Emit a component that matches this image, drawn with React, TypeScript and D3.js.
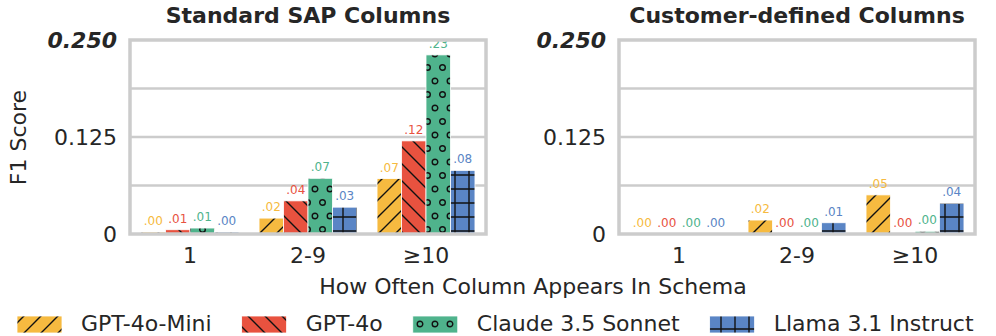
import React, { useEffect, useRef } from "react";
import * as d3 from "d3";

const categories = ["1", "2-9", "≥10"];
const models = ["GPT-4o-Mini", "GPT-4o", "Claude 3.5 Sonnet", "Llama 3.1 Instruct"];
const colors = ["#F6BA40", "#E8523F", "#4FB38C", "#5A85C5"];
const hatches = ["slash", "backslash", "circles", "grid"];

// values per model, in category order
const standardMini = [0.0025, 0.0205, 0.0714];
const standardGpt4o = [0.0055, 0.0427, 0.12];
const standardClaude = [0.0077, 0.0718, 0.2308];
const standardLlama = [0.0025, 0.0346, 0.082];

const customMini = [0, 0.018, 0.0504];
const customGpt4o = [0, 0, 0];
const customClaude = [0, 0, 0.0035];
const customLlama = [0, 0.0145, 0.0397];

const yTicks = [0, 0.125, 0.25];
const yTickLabels = ["0", "0.125", "0.250"];
const yGrid = [0.0625, 0.125, 0.1875];

const panels = [
  { title: "Standard SAP Columns", series: [standardMini, standardGpt4o, standardClaude, standardLlama], left: 130, right: 486 },
  { title: "Customer-defined Columns", series: [customMini, customGpt4o, customClaude, customLlama], left: 619, right: 975 },
];

const FONT = "DejaVu Sans, sans-serif";
const TEXT = "#262626";
const GRID = "#cccccc";

function App() {
  const ref = useRef<SVGSVGElement>(null);

  useEffect(() => {
    const svg = d3.select(ref.current);
    svg.selectAll("*").remove();

    // hatch patterns
    const defs = svg.append("defs");
    hatches.forEach((h, i) => {
      let w = 17;
      let ht = 17;
      if (h === "circles") { w = 15; ht = 27; }
      if (h === "grid") { w = 14; ht = 14; }
      const p = defs
        .append("pattern")
        .attr("id", "hatch-" + h)
        .attr("patternUnits", "userSpaceOnUse")
        .attr("width", w)
        .attr("height", ht);
      p.append("rect").attr("width", w).attr("height", ht).attr("fill", colors[i]);
      const g = p.append("g").attr("stroke", "#111").attr("stroke-width", 1.4).attr("fill", "none");
      if (h === "slash") {
        g.append("path").attr("d", `M-1,1 l2,-2 M0,${w} l${w},-${w} M${w - 1},${w + 1} l2,-2`);
      } else if (h === "backslash") {
        g.append("path").attr("d", `M-1,${w - 1} l2,2 M0,0 l${w},${w} M${w - 1},-1 l2,2`);
      } else if (h === "grid") {
        g.append("path").attr("d", "M7,0 V14 M0,7 H14");
      } else {
        const pts = [
          [0, 0], [15, 0], [7.5, 13.5], [0, 27], [15, 27],
        ];
        pts.forEach(([cx, cy]) =>
          g.append("circle").attr("cx", cx).attr("cy", cy).attr("r", 2.8)
        );
      }
    });

    const y = d3.scaleLinear().domain([0, 0.25]).range([234, 40]);

    panels.forEach((panel) => {
      const g = svg.append("g");
      const x = d3
        .scaleBand()
        .domain(categories)
        .range([panel.left + 1, panel.right - 1])
        .paddingInner(0)
        .paddingOuter(0);
      const inner = d3
        .scaleBand()
        .domain(models)
        .range([0, x.bandwidth() * 0.83]);
      const groupOffset = (x.bandwidth() - x.bandwidth() * 0.83) / 2;

      // grid lines
      g.append("g")
        .selectAll("line")
        .data(yGrid)
        .join("line")
        .attr("x1", panel.left)
        .attr("x2", panel.right)
        .attr("y1", (d) => y(d))
        .attr("y2", (d) => y(d))
        .attr("stroke", GRID)
        .attr("stroke-width", 2.6);

      // bars
      models.forEach((m, mi) => {
        const vals = panel.series[mi];
        g.append("g")
          .selectAll("rect")
          .data(vals)
          .join("rect")
          .attr("x", (_, ci) => (x(categories[ci]) as number) + groupOffset + (inner(m) as number))
          .attr("width", inner.bandwidth())
          .attr("y", (d) => y(d))
          .attr("height", (d) => y(0) - y(d))
          .attr("fill", `url(#hatch-${hatches[mi]})`)
          .attr("stroke", "white")
          .attr("stroke-width", 0.8);

        g.append("g")
          .selectAll("text")
          .data(vals)
          .join("text")
          .attr("x", (_, ci) => (x(categories[ci]) as number) + groupOffset + (inner(m) as number) + inner.bandwidth() / 2)
          .attr("y", (d) => y(d) - 7)
          .attr("text-anchor", "middle")
          .attr("font-family", FONT)
          .attr("font-size", 12)
          .attr("fill", colors[mi])
          .text((d) => d3.format(".2f")(d).replace(/^0/, ""));
      });

      // frame
      g.append("rect")
        .attr("x", panel.left)
        .attr("y", 40)
        .attr("width", panel.right - panel.left)
        .attr("height", 194)
        .attr("fill", "none")
        .attr("stroke", GRID)
        .attr("stroke-width", 3.5);

      // y tick labels
      g.append("g")
        .selectAll("text")
        .data(yTicks)
        .join("text")
        .attr("x", panel.left - 13)
        .attr("y", (d) => y(d))
        .attr("dy", "0.36em")
        .attr("text-anchor", "end")
        .attr("font-family", FONT)
        .attr("font-size", 22)
        .attr("fill", TEXT)
        .attr("font-weight", (_, i) => (i === 2 ? "bold" : "normal"))
        .attr("font-style", (_, i) => (i === 2 ? "italic" : "normal"))
        .text((_, i) => yTickLabels[i]);

      // x tick labels
      g.append("g")
        .selectAll("text")
        .data(categories)
        .join("text")
        .attr("x", (d) => (x(d) as number) + x.bandwidth() / 2)
        .attr("y", 263)
        .attr("text-anchor", "middle")
        .attr("font-family", FONT)
        .attr("font-size", 22)
        .attr("fill", TEXT)
        .text((d) => d);

      // title
      g.append("text")
        .attr("x", (panel.left + panel.right) / 2)
        .attr("y", 23)
        .attr("text-anchor", "middle")
        .attr("font-family", FONT)
        .attr("font-size", 22)
        .attr("font-weight", "bold")
        .attr("fill", TEXT)
        .text(panel.title);
    });

    // axis titles
    svg.append("text")
      .attr("transform", "translate(18,137.5) rotate(-90)")
      .attr("dy", "0.36em")
      .attr("text-anchor", "middle")
      .attr("font-family", FONT)
      .attr("font-size", 22)
      .attr("fill", TEXT)
      .text("F1 Score");

    svg.append("text")
      .attr("x", 533)
      .attr("y", 294)
      .attr("text-anchor", "middle")
      .attr("font-family", FONT)
      .attr("font-size", 22)
      .attr("fill", TEXT)
      .text("How Often Column Appears In Schema");

    // legend
    const legend = svg.append("g");
    let cursor = 17;
    models.forEach((m, i) => {
      legend.append("rect")
        .attr("x", cursor)
        .attr("y", 316)
        .attr("width", 45)
        .attr("height", 17)
        .attr("fill", `url(#hatch-${hatches[i]})`)
        .attr("stroke", "white")
        .attr("stroke-width", 0.8);
      const t = legend.append("text")
        .attr("x", cursor + 64)
        .attr("y", 331)
        .attr("font-family", FONT)
        .attr("font-size", 22)
        .attr("fill", TEXT)
        .text(m);
      const w = (t.node() as SVGTextElement).getComputedTextLength();
      cursor += 64 + w + 30;
    });
  }, []);

  return (
    <svg
      ref={ref}
      width={996}
      height={336}
      style={{ position: "absolute", left: 0, top: 0, background: "white" }}
    />
  );
}

export default App;
